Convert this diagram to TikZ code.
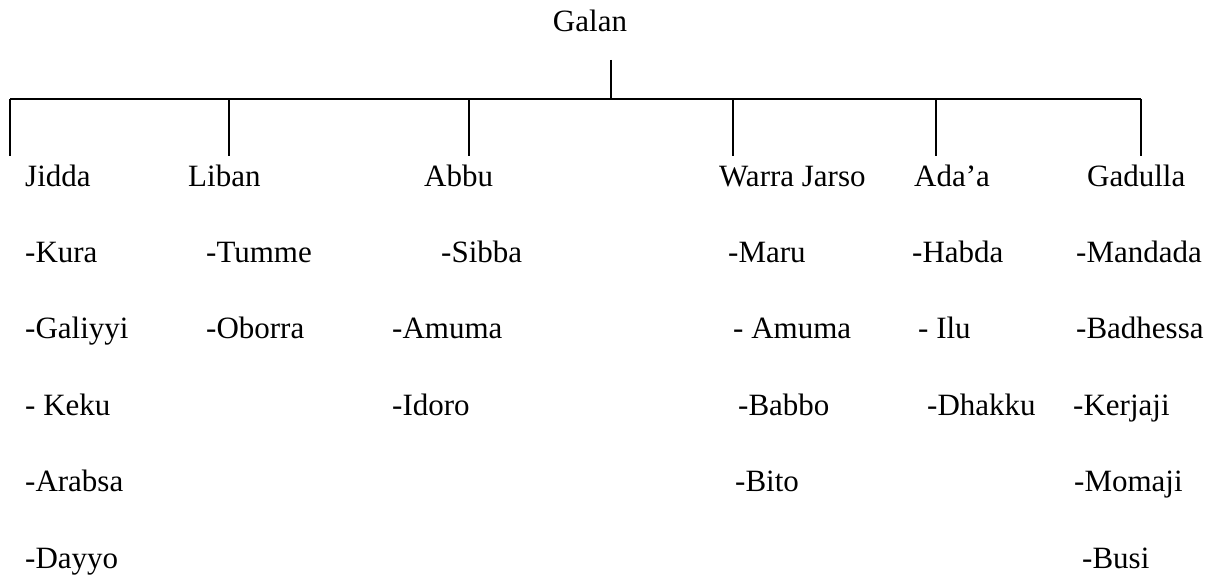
\documentclass[tikz,border=0pt]{standalone}
\usepackage{fontspec}
\setmainfont{Liberation Serif}
\begin{document}
\begin{tikzpicture}[x=1pt,y=-1pt,
  lbl/.style={anchor=base west,inner sep=0pt,font=\fontsize{31}{37}\selectfont},
  conn/.style={line width=1.8pt}]
\useasboundingbox (0,0) rectangle (1210,575);
% root
\node[lbl,anchor=base] (galan) at (590,32) {Galan};
\coordinate (rtop) at (611,60);
\coordinate (rbar) at (611,99);
% children bar points and ends
\foreach \n/\x in {a/10,b/229,c/469,d/733,e/936,f/1141}{
  \coordinate (bar\n) at (\x,99);
  \coordinate (end\n) at (\x,156);
}
% children labels
\node[lbl] (jidda) at (25,186) {Jidda};
\node[lbl] (liban) at (188,186) {Liban};
\node[lbl] (abbu) at (424,186) {Abbu};
\node[lbl] (warra) at (719,186) {Warra Jarso};
\node[lbl] (adaa) at (914,186) {Ada’a};
\node[lbl] (gadulla) at (1087,186) {Gadulla};
% connectors
\draw[conn] (rtop) -- (rbar);
\draw[conn] (bara) -- (barf);
\foreach \n in {a,b,c,d,e,f}{\draw[conn] (bar\n) -- (end\n);}
% Jidda
\node[lbl] (kura) at (25,262) {-Kura};
\node[lbl] (galiyyi) at (25,338.5) {-Galiyyi};
\node[lbl] (keku) at (25,415) {- Keku};
\node[lbl] (arabsa) at (25,491.5) {-Arabsa};
\node[lbl] (dayyo) at (25,568) {-Dayyo};
% Liban
\node[lbl] (tumme) at (206,262) {-Tumme};
\node[lbl] (oborra) at (206,338.5) {-Oborra};
% Abbu
\node[lbl] (sibba) at (441,262) {-Sibba};
\node[lbl] (amuma1) at (392,338.5) {-Amuma};
\node[lbl] (idoro) at (392,415) {-Idoro};
% Warra Jarso
\node[lbl] (maru) at (728,262) {-Maru};
\node[lbl] (amuma2) at (733,338.5) {- Amuma};
\node[lbl] (babbo) at (738,415) {-Babbo};
\node[lbl] (bito) at (735,491.5) {-Bito};
% Ada'a
\node[lbl] (habda) at (912,262) {-Habda};
\node[lbl] (ilu) at (918,338.5) {- Ilu};
\node[lbl] (dhakku) at (927,415) {-Dhakku};
% Gadulla
\node[lbl] (mandada) at (1076,262) {-Mandada};
\node[lbl] (badhessa) at (1076,338.5) {-Badhessa};
\node[lbl] (kerjaji) at (1073,415) {-Kerjaji};
\node[lbl] (momaji) at (1074,491.5) {-Momaji};
\node[lbl] (busi) at (1082,568) {-Busi};
\end{tikzpicture}
\end{document}
